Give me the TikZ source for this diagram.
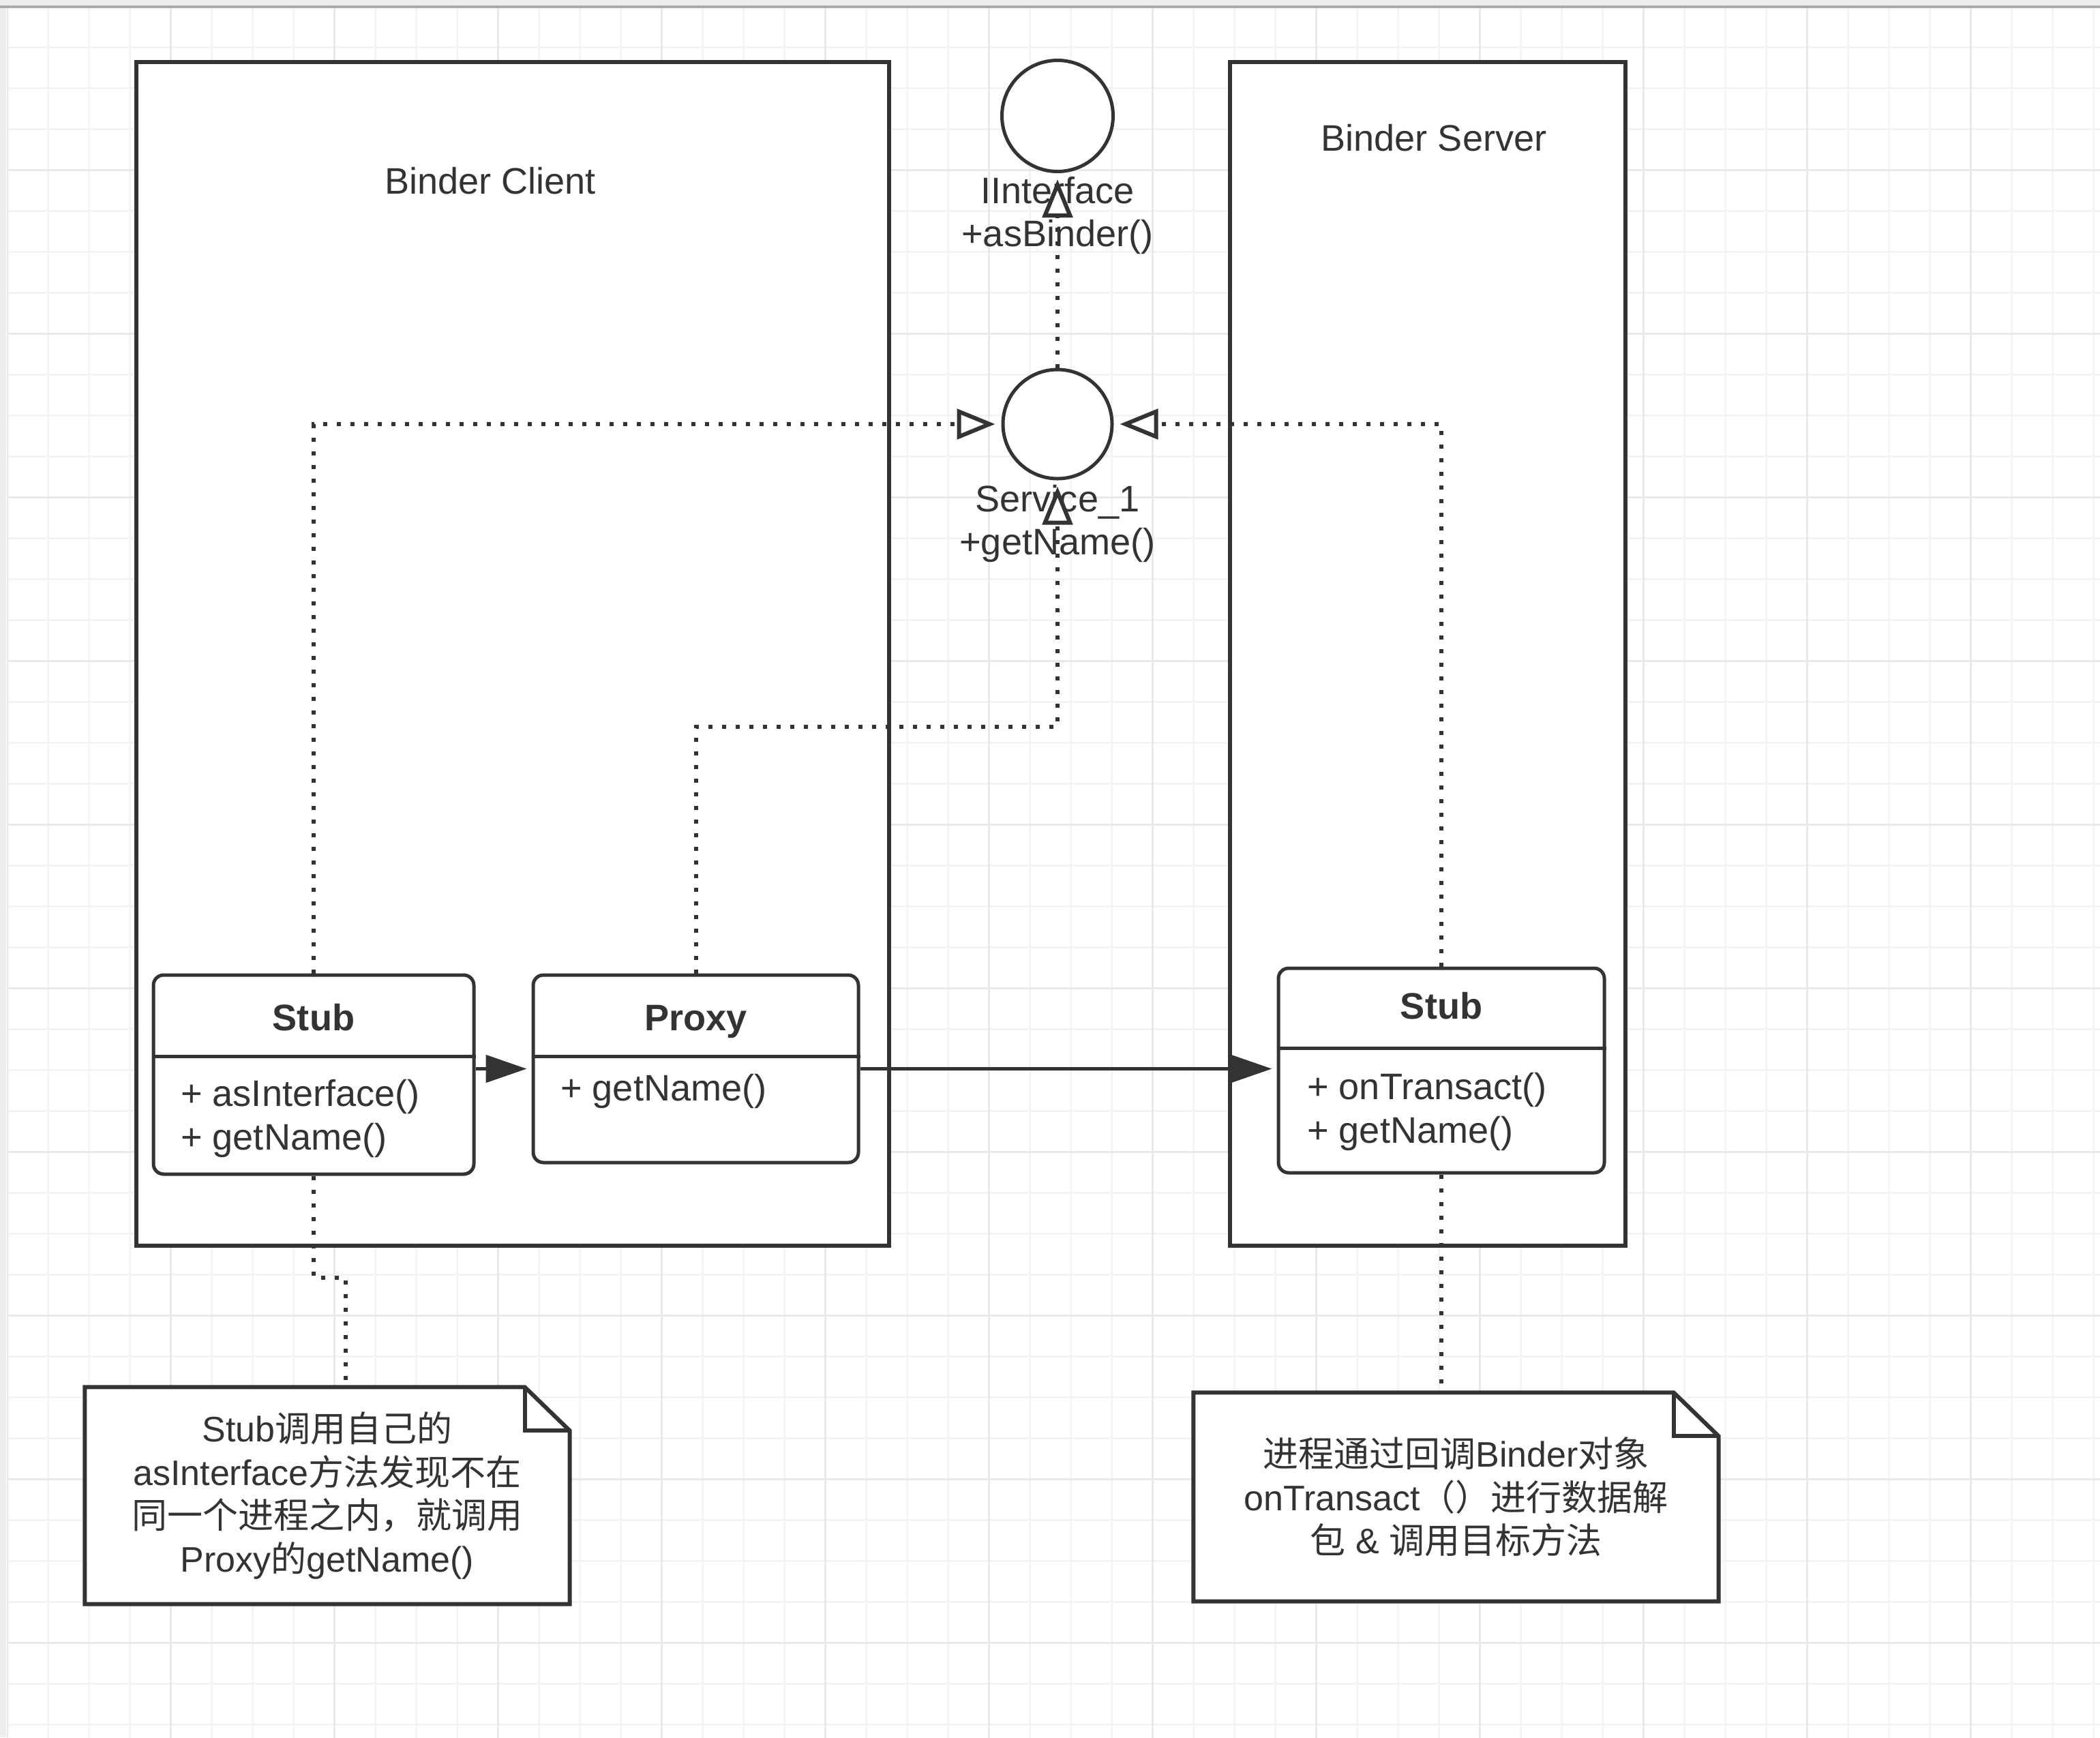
\documentclass[tikz,border=0pt]{standalone}
\usepackage{fontspec}
\setmainfont{Liberation Sans}
\newfontfamily\cjk{Noto Sans CJK SC}
\usetikzlibrary{positioning}
\usetikzlibrary{arrows.meta}
\usetikzlibrary{calc}
\definecolor{ink}{HTML}{333333}
\definecolor{gridminor}{HTML}{F4F4F6}
\definecolor{gridmajor}{HTML}{E9E9ED}
\definecolor{barlight}{HTML}{EEEEEE}
\definecolor{bardark}{HTML}{ABABAB}
\tikzset{zone/.style={draw=ink, fill=white, line width=0.06cm, inner sep=0pt}}
\tikzset{cls/.style={draw=ink, fill=white, line width=0.05cm, rounded corners=0.15cm, inner sep=0pt}}
\tikzset{iface/.style={draw=ink, fill=white, circle, line width=0.05cm, inner sep=0pt}}
\tikzset{lbl/.style={align=center, inner sep=0pt}}
\tikzset{members/.style={align=left, anchor=west, inner sep=0pt}}
\tikzset{title/.style={inner sep=0pt, anchor=base, font=\fontsize{15.4}{18.2}\selectfont\bfseries}}
\tikzset{notebox/.style={inner sep=0pt}}
\tikzset{assoc/.style={draw=ink, line width=0.05cm, -{Triangle[length=0.6cm,width=0.4cm]}, shorten >=0.07cm}}
\tikzset{impl/.style={draw=ink, line width=0.06cm, dash pattern=on 0.06cm off 0.14cm,
    -{Triangle[fill=white,length=0.56cm,width=0.44cm]}, shorten >=0.09cm}}
\tikzset{link/.style={draw=ink, line width=0.06cm, dash pattern=on 0.06cm off 0.14cm}}
\tikzset{divider/.style={draw=ink, line width=0.05cm}}
\newcommand\foldnote[1]{%
  \draw[zone] (#1.south west) -- (#1.north west) -- ($(#1.north east)+(-0.66,0)$)
    -- ($(#1.north east)+(0,-0.64)$) -- (#1.south east) -- cycle;
  \draw[zone, fill=none] ($(#1.north east)+(-0.66,0)$) |- ($(#1.north east)+(0,-0.64)$);
}
\begin{document}
\begin{tikzpicture}[on grid, every node/.style={font=\fontsize{15.4}{18.2}\selectfont, text=ink}]
    \useasboundingbox (0,0) rectangle (30.80,-25.48);

    % canvas with grid
    \fill[white] (0,0) rectangle (30.80,-25.48);
    \begin{scope}
        \clip (0.10,-0.10) rectangle (30.80,-25.48);
        \begin{scope}[shift={(0.10,-0.09)}]
            \draw[gridminor, line width=0.03cm, step=0.6] (-1.2,1.2) grid (31.2,-26.4);
            \draw[gridmajor, line width=0.03cm, step=2.4] (-2.4,2.4) grid (31.2,-26.4);
        \end{scope}
    \end{scope}
    \fill[barlight] (0,0) rectangle (30.80,-0.08);
    \fill[bardark] (0,-0.08) rectangle (30.80,-0.115);
    \fill[barlight] (0,-0.115) rectangle (0.09,-25.48);

    % processes
    \node[zone, minimum width=11.04cm, minimum height=17.36cm] (client) at (7.52,-9.59) {};
    \node[zone, minimum width=5.80cm, minimum height=17.36cm] (server) at (20.94,-9.59) {};
    \node[lbl] (clientname) at (7.19,-2.65) {Binder Client};
    \node[lbl] (servername) at (21.03,-2.02) {Binder Server};

    % interfaces
    \node[iface, minimum size=1.63cm] (ifc) at (15.51,-1.70) {};
    \node[iface, minimum size=1.60cm] (svc) at (15.51,-6.22) {};
    \node[lbl] (ifcname) at (15.51,-3.16) {IInterface\\+asBinder()};
    \node[lbl] (svcname) at (15.51,-7.68) {Service\_1\\+getName()};

    % classes
    \node[cls, minimum width=4.70cm, minimum height=2.92cm] (stubC) at (4.60,-15.76) {};
    \node[title] (stubCtitle) at ($(stubC.north)+(0,-0.84)$) {Stub};
    \draw[divider] ($(stubC.north west)+(0,-1.22)$) -- ($(stubC.north east)+(0,-1.22)$);
    \node[members] (stubCops) at ($(stubC.north west)+(0.42,-2.13)$) {+ asInterface()\\+ getName()};

    \node[cls, minimum width=4.77cm, minimum height=2.75cm] (proxy) at (10.205,-15.675) {};
    \node[title] (proxytitle) at ($(proxy.north)+(0,-0.84)$) {Proxy};
    \draw[divider] ($(proxy.north west)+(0,-1.22)$) -- ($(proxy.north east)+(0,-1.22)$);
    \node[members] (proxyops) at ($(proxy.north west)+(0.42,-1.73)$) {+ getName()};

    \node[cls, minimum width=4.78cm, minimum height=3.00cm] (stubS) at (21.14,-15.70) {};
    \node[title] (stubStitle) at ($(stubS.north)+(0,-0.77)$) {Stub};
    \draw[divider] ($(stubS.north west)+(0,-1.20)$) -- ($(stubS.north east)+(0,-1.20)$);
    \node[members] (stubSops) at ($(stubS.north west)+(0.44,-2.13)$) {+ onTransact()\\+ getName()};

    \draw[assoc] (stubC.east |- proxy.west) -- (proxy.west);
    \draw[assoc] (proxy.east) -- (stubS.west |- proxy.east);

    \draw[impl] (stubC.north) |- (svc.west);
    \draw[impl] (stubS.north) |- (svc.east);
    \draw[impl] (proxy.north) -- ++(0,3.62) -| (svc.south);
    \draw[impl] (svc.north) -- (ifc.south);

    % notes
    \node[notebox, minimum width=7.10cm, minimum height=3.17cm] (noteL) at (4.80,-21.935) {};
    \foldnote{noteL}
    \node[lbl, font=\fontsize{14.8}{18.1}\selectfont] (noteLtext) at (noteL) {Stub{\cjk 调用自己的}\\asInterface{\cjk 方法发现不在}\\{\cjk 同一个进程之内，就调用}\\Proxy{\cjk 的}getName()};

    \node[notebox, minimum width=7.69cm, minimum height=3.05cm] (noteR) at (21.355,-21.955) {};
    \foldnote{noteR}
    \node[lbl, font=\fontsize{14.8}{18.1}\selectfont] (noteRtext) at (noteR) {{\cjk 进程通过回调}Binder{\cjk 对象}\\onTransact{\cjk （）进行数据解}\\{\cjk 包} \& {\cjk 调用目标方法}};

    \coordinate (jog) at (5.07,-18.74);
    \draw[link] (stubC.south) |- (jog) -- (jog |- noteL.north);
    \draw[link] (stubS.south) -- (stubS.south |- noteR.north);
\end{tikzpicture}
\end{document}
